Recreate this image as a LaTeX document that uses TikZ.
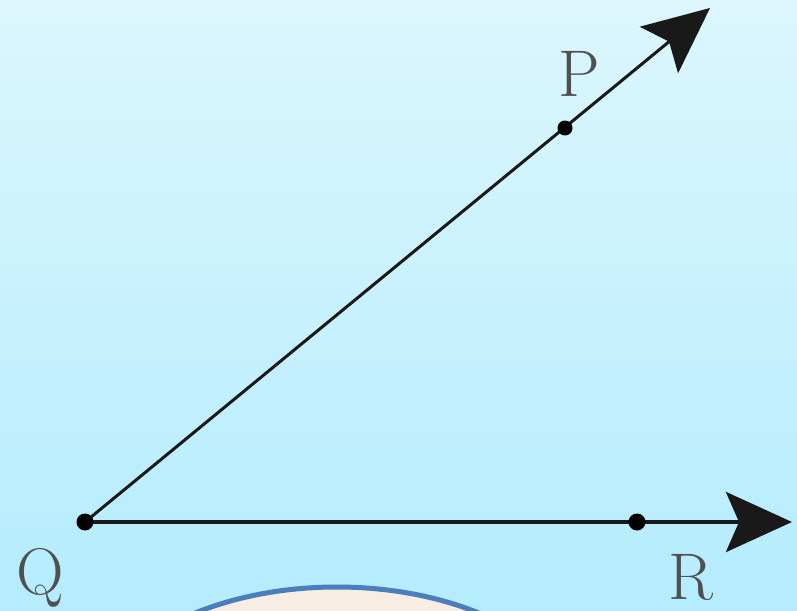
\documentclass[tikz,border=0pt]{standalone}
\usetikzlibrary{arrows.meta}
\definecolor{bgtop}{RGB}{220,246,253}
\definecolor{bgbot}{RGB}{180,236,254}
\definecolor{cream}{RGB}{247,237,226}
\definecolor{rimblue}{RGB}{74,127,187}
\definecolor{labgrey}{RGB}{80,80,80}
\definecolor{ink}{RGB}{25,25,25}
\tikzset{
  ray/.style={draw=ink, line width=#1, -{Stealth[length=66pt,width=60pt,inset=13pt]}},
  pt/.style={circle, fill=black, inner sep=0pt, minimum size=17pt},
  lab/.style={text=labgrey, font=\fontsize{66}{66}\selectfont, inner sep=0pt, anchor=base}
}
\begin{document}
\begin{tikzpicture}[x=1pt,y=-1pt]
  \useasboundingbox (0,0) rectangle (797,610);
  \shade[top color=bgtop, bottom color=bgbot] (0,0) rectangle (797,610);
  \begin{scope}
    \clip (0,0) rectangle (797,610);
    \draw[fill=cream, draw=rimblue, line width=5pt] (337,737) ellipse [x radius=252, y radius=150];
  \end{scope}
  \coordinate (Q) at (85,522);
  \coordinate (tipP) at (710,8);
  \coordinate (tipR) at (792,522);
  \draw[ray=3pt] (Q) -- (tipP);
  \draw[ray=4pt] (Q) -- (tipR);
  \node[pt] (q) at (Q) {};
  \node[pt, minimum size=15pt] (p) at (565,128) {};
  \node[pt] (r) at (637,522) {};
  \node[lab] (lQ) at (40,594) {Q};
  \node[lab] (lP) at (579,96) {P};
  \node[lab] (lR) at (691,599) {R};
\end{tikzpicture}
\end{document}
